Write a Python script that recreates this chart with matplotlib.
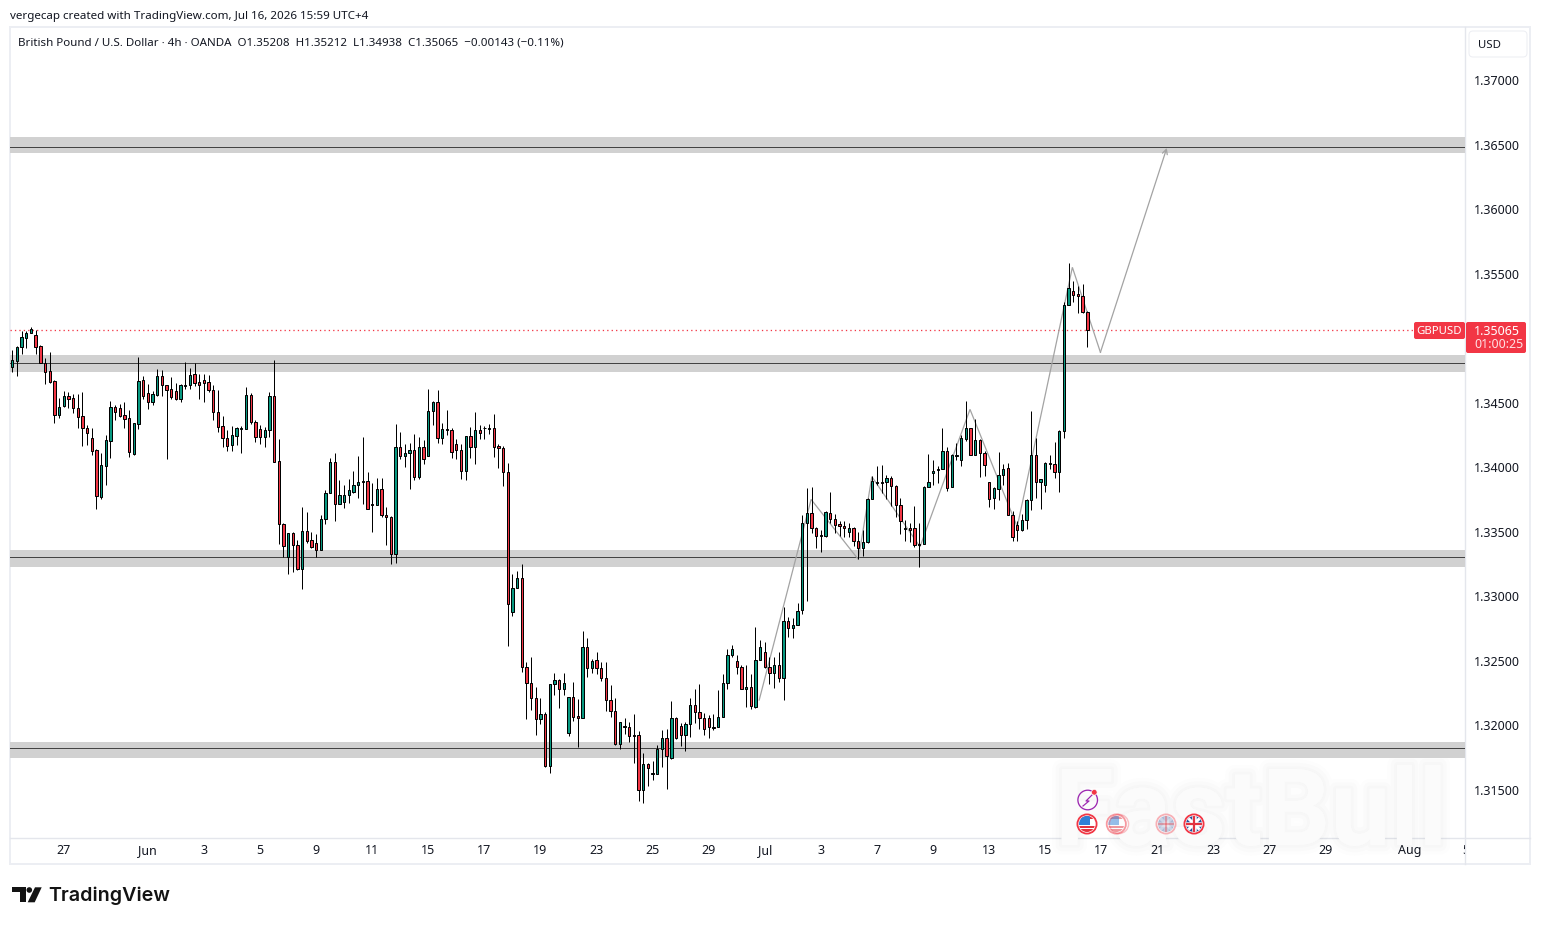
import numpy as np
import matplotlib
matplotlib.use("Agg")
import matplotlib.pyplot as plt
import matplotlib.patheffects as pe
from matplotlib.patches import Circle, FancyBboxPatch, Polygon, Rectangle
from matplotlib.transforms import Bbox, ScaledTranslation

# GBPUSD 4h bars
opens = [
    1.34781, 1.34828, 1.34931, 1.35001, 1.35040, 1.35024, 1.34939, 1.34807, 1.34745, 1.34668,
    1.34409, 1.34474, 1.34551, 1.34536, 1.34458, 1.34396, 1.34303, 1.34226, 1.34133, 1.33773,
    1.34014, 1.34208, 1.34466, 1.34458, 1.34404, 1.34381, 1.34104, 1.34339, 1.34675, 1.34575,
    1.34510, 1.34564, 1.34706, 1.34637, 1.34606, 1.34590, 1.34533, 1.34631, 1.34637, 1.34722,
    1.34660, 1.34675, 1.34660, 1.34598, 1.34427, 1.34319, 1.34226, 1.34177, 1.34246, 1.34295,
    1.34295, 1.34559, 1.34350, 1.34295, 1.34233, 1.34288, 1.34552, 1.34048, 1.33562, 1.33304,
    1.33490, 1.33397, 1.33211, 1.33505, 1.33436, 1.33412, 1.33358, 1.33598, 1.33800, 1.34040,
    1.33715, 1.33730, 1.33784, 1.33813, 1.33862, 1.33890, 1.33893, 1.33715, 1.33707, 1.33831,
    1.33629, 1.33616, 1.33327, 1.34156, 1.34087, 1.34110, 1.34133, 1.33929, 1.34156, 1.34087,
    1.34436, 1.34505, 1.34226, 1.34288, 1.34288, 1.34180, 1.34133, 1.33970, 1.34242, 1.34156,
    1.34288, 1.34304, 1.34301, 1.34304, 1.34164, 1.34149, 1.33963, 1.32883, 1.33064, 1.33141,
    1.32451, 1.32327, 1.32211, 1.32053, 1.32087, 1.31689, 1.32320, 1.32351, 1.32281, 1.31945,
    1.32219, 1.32072, 1.32056, 1.32606, 1.32444, 1.32506, 1.32444, 1.32366, 1.32196, 1.32110,
    1.31860, 1.31994, 1.31986, 1.31927, 1.31924, 1.31498, 1.31699, 1.31625, 1.31622, 1.31816,
    1.31901, 1.31749, 1.32056, 1.31994, 1.31924, 1.32010, 1.32157, 1.32103, 1.32056, 1.32056,
    1.31981, 1.31986, 1.32064, 1.32327, 1.32544, 1.32498, 1.32451, 1.32281, 1.32296, 1.32144,
    1.32506, 1.32568, 1.32451, 1.32409, 1.32466, 1.32365, 1.32807, 1.32758, 1.32776, 1.32892,
    1.33567, 1.33644, 1.33528, 1.33474, 1.33471, 1.33644, 1.33598, 1.33559, 1.33544, 1.33497,
    1.33528, 1.33427, 1.33373, 1.33420, 1.33753, 1.33877, 1.33877, 1.33885, 1.33916, 1.33854,
    1.33706, 1.33526, 1.33528, 1.33528, 1.33404, 1.33404, 1.33846, 1.33954, 1.33978, 1.33985,
    1.34125, 1.33846, 1.34086, 1.34055, 1.34218, 1.34303, 1.34094, 1.34210, 1.34110, 1.33885,
    1.33761, 1.33830, 1.33939, 1.33993, 1.33629, 1.33551, 1.33513, 1.33590, 1.33745, 1.34094,
    1.33885, 1.33862, 1.34030, 1.34024, 1.33962, 1.34280, 1.35257, 1.35366, 1.35342, 1.35327,
    1.35208,
]
closes = [
    1.34830, 1.34931, 1.35009, 1.35040, 1.35071, 1.34936, 1.34807, 1.34742, 1.34665, 1.34409,
    1.34466, 1.34551, 1.34533, 1.34458, 1.34394, 1.34303, 1.34270, 1.34130, 1.33776, 1.34016,
    1.34210, 1.34466, 1.34432, 1.34401, 1.34378, 1.34117, 1.34342, 1.34668, 1.34556, 1.34510,
    1.34567, 1.34706, 1.34637, 1.34603, 1.34549, 1.34533, 1.34637, 1.34637, 1.34714, 1.34657,
    1.34642, 1.34657, 1.34603, 1.34427, 1.34316, 1.34226, 1.34169, 1.34249, 1.34303, 1.34303,
    1.34559, 1.34350, 1.34233, 1.34233, 1.34288, 1.34551, 1.34040, 1.33560, 1.33389, 1.33490,
    1.33397, 1.33211, 1.33505, 1.33428, 1.33386, 1.33358, 1.33598, 1.33800, 1.34040, 1.33715,
    1.33784, 1.33784, 1.33823, 1.33862, 1.33885, 1.33895, 1.33676, 1.33707, 1.33831, 1.33629,
    1.33614, 1.33327, 1.34156, 1.34087, 1.34110, 1.34133, 1.33929, 1.34156, 1.34063, 1.34436,
    1.34505, 1.34226, 1.34296, 1.34296, 1.34118, 1.34133, 1.33970, 1.34242, 1.34156, 1.34288,
    1.34265, 1.34309, 1.34306, 1.34162, 1.34149, 1.33963, 1.32940, 1.33064, 1.33141, 1.32451,
    1.32327, 1.32211, 1.32048, 1.32087, 1.31687, 1.32320, 1.32351, 1.32281, 1.32327, 1.32219,
    1.32069, 1.32056, 1.32606, 1.32444, 1.32498, 1.32444, 1.32366, 1.32196, 1.32110, 1.31860,
    1.32025, 1.31986, 1.31922, 1.31922, 1.31498, 1.31699, 1.31674, 1.31630, 1.31816, 1.31901,
    1.31761, 1.32056, 1.31901, 1.31924, 1.32010, 1.32157, 1.32103, 1.32056, 1.31971, 1.31986,
    1.31986, 1.32064, 1.32327, 1.32544, 1.32591, 1.32451, 1.32281, 1.32296, 1.32149, 1.32506,
    1.32606, 1.32451, 1.32409, 1.32466, 1.32365, 1.32807, 1.32753, 1.32776, 1.32885, 1.33567,
    1.33644, 1.33528, 1.33466, 1.33466, 1.33652, 1.33598, 1.33551, 1.33544, 1.33528, 1.33528,
    1.33427, 1.33373, 1.33420, 1.33753, 1.33892, 1.33885, 1.33885, 1.33916, 1.33854, 1.33706,
    1.33582, 1.33531, 1.33518, 1.33396, 1.33396, 1.33846, 1.33885, 1.33970, 1.33985, 1.34125,
    1.33838, 1.34094, 1.34094, 1.34226, 1.34303, 1.34094, 1.34210, 1.34110, 1.34017, 1.33753,
    1.33838, 1.33939, 1.33985, 1.33629, 1.33458, 1.33513, 1.33590, 1.33745, 1.34094, 1.33885,
    1.33908, 1.34032, 1.34035, 1.33962, 1.34280, 1.35257, 1.35389, 1.35335, 1.35327, 1.35203,
    1.35065,
]
highs = [
    1.34910, 1.34941, 1.35060, 1.35060, 1.35089, 1.35065, 1.34949, 1.34846, 1.34892, 1.34678,
    1.34536, 1.34590, 1.34585, 1.34569, 1.34569, 1.34585, 1.34326, 1.34306, 1.34140, 1.34109,
    1.34249, 1.34515, 1.34484, 1.34492, 1.34505, 1.34445, 1.34342, 1.34856, 1.34706, 1.34647,
    1.34590, 1.34761, 1.34755, 1.34637, 1.34701, 1.34652, 1.34644, 1.34815, 1.34771, 1.34807,
    1.34722, 1.34722, 1.34714, 1.34637, 1.34598, 1.34396, 1.34288, 1.34319, 1.34311, 1.34319,
    1.34621, 1.34575, 1.34365, 1.34326, 1.34311, 1.34585, 1.34833, 1.34221, 1.33567, 1.33495,
    1.33498, 1.33438, 1.33691, 1.33653, 1.33503, 1.33482, 1.33629, 1.33826, 1.34071, 1.34110,
    1.33903, 1.33864, 1.33908, 1.33970, 1.34087, 1.34234, 1.33963, 1.33877, 1.33916, 1.33916,
    1.33691, 1.33624, 1.34335, 1.34273, 1.34180, 1.34187, 1.34257, 1.34234, 1.34211, 1.34606,
    1.34518, 1.34598, 1.34343, 1.34443, 1.34304, 1.34224, 1.34180, 1.34242, 1.34312, 1.34430,
    1.34327, 1.34319, 1.34335, 1.34412, 1.34185, 1.34164, 1.34032, 1.33175, 1.33198, 1.33252,
    1.32495, 1.32529, 1.32296, 1.32211, 1.32103, 1.32320, 1.32405, 1.32358, 1.32405, 1.32219,
    1.32338, 1.32206, 1.32733, 1.32676, 1.32513, 1.32568, 1.32490, 1.32490, 1.32312, 1.32211,
    1.32025, 1.32056, 1.32025, 1.32090, 1.31955, 1.31785, 1.31707, 1.31728, 1.31847, 1.31963,
    1.31971, 1.32188, 1.32064, 1.32017, 1.32025, 1.32211, 1.32281, 1.32320, 1.32095, 1.32082,
    1.32092, 1.32273, 1.32397, 1.32591, 1.32625, 1.32544, 1.32467, 1.32467, 1.32397, 1.32762,
    1.32663, 1.32645, 1.32528, 1.32528, 1.32567, 1.32916, 1.32838, 1.32830, 1.32947, 1.33629,
    1.33838, 1.33846, 1.33536, 1.33515, 1.33660, 1.33807, 1.33637, 1.33582, 1.33588, 1.33567,
    1.33536, 1.33497, 1.33515, 1.33761, 1.33931, 1.34009, 1.34017, 1.33939, 1.33931, 1.33861,
    1.33761, 1.33590, 1.33567, 1.33699, 1.33567, 1.33854, 1.34102, 1.34055, 1.34009, 1.34303,
    1.34156, 1.34102, 1.34187, 1.34249, 1.34513, 1.34303, 1.34373, 1.34218, 1.34125, 1.33885,
    1.33846, 1.34117, 1.34024, 1.34032, 1.33660, 1.33582, 1.33637, 1.33753, 1.34435, 1.34226,
    1.33913, 1.34040, 1.34094, 1.34195, 1.34288, 1.35280, 1.35583, 1.35443, 1.35404, 1.35420,
    1.35212,
]
lows = [
    1.34742, 1.34711, 1.34882, 1.34929, 1.35040, 1.34879, 1.34807, 1.34649, 1.34657, 1.34347,
    1.34386, 1.34466, 1.34463, 1.34419, 1.34308, 1.34169, 1.34177, 1.34099, 1.33680, 1.33758,
    1.33867, 1.34076, 1.34370, 1.34394, 1.34308, 1.34084, 1.34099, 1.34301, 1.34533, 1.34456,
    1.34487, 1.34556, 1.34556, 1.34068, 1.34533, 1.34523, 1.34510, 1.34611, 1.34611, 1.34634,
    1.34533, 1.34510, 1.34587, 1.34370, 1.34277, 1.34161, 1.34130, 1.34125, 1.34177, 1.34115,
    1.34295, 1.34339, 1.34200, 1.34184, 1.34161, 1.34239, 1.34040, 1.33410, 1.33304, 1.33172,
    1.33187, 1.33203, 1.33061, 1.33417, 1.33379, 1.33306, 1.33358, 1.33560, 1.33800, 1.33585,
    1.33715, 1.33689, 1.33728, 1.33800, 1.33761, 1.33715, 1.33676, 1.33503, 1.33707, 1.33619,
    1.33399, 1.33249, 1.33262, 1.34063, 1.34001, 1.33836, 1.33901, 1.33908, 1.34025, 1.34087,
    1.34332, 1.34187, 1.34180, 1.34249, 1.34071, 1.34069, 1.33911, 1.33906, 1.34076, 1.34030,
    1.34224, 1.34224, 1.34257, 1.34084, 1.33999, 1.33854, 1.32619, 1.32852, 1.33064, 1.32418,
    1.32053, 1.32118, 1.31929, 1.32010, 1.31681, 1.31635, 1.32234, 1.32139, 1.32234, 1.31922,
    1.32038, 1.31836, 1.32056, 1.32379, 1.32405, 1.32397, 1.32343, 1.32116, 1.32069, 1.31852,
    1.31821, 1.31932, 1.31875, 1.31712, 1.31418, 1.31402, 1.31534, 1.31581, 1.31622, 1.31676,
    1.31511, 1.31738, 1.31893, 1.31844, 1.31805, 1.31909, 1.32017, 1.31971, 1.31924, 1.31906,
    1.31963, 1.31986, 1.32064, 1.32281, 1.32529, 1.32397, 1.32281, 1.32141, 1.32126, 1.32139,
    1.32506, 1.32444, 1.32319, 1.32288, 1.32339, 1.32197, 1.32688, 1.32681, 1.32776, 1.32861,
    1.32967, 1.33492, 1.33378, 1.33347, 1.33464, 1.33567, 1.33495, 1.33466, 1.33464, 1.33464,
    1.33394, 1.33288, 1.33316, 1.33412, 1.33753, 1.33861, 1.33799, 1.33753, 1.33701, 1.33613,
    1.33487, 1.33433, 1.33420, 1.33381, 1.33226, 1.33404, 1.33846, 1.33861, 1.33877, 1.33985,
    1.33815, 1.33846, 1.34055, 1.34009, 1.34203, 1.34094, 1.34094, 1.33923, 1.33931, 1.33696,
    1.33675, 1.33745, 1.33861, 1.33629, 1.33427, 1.33427, 1.33505, 1.33521, 1.33668, 1.33761,
    1.33681, 1.33807, 1.33988, 1.33916, 1.33807, 1.34226, 1.35257, 1.35280, 1.35200, 1.35195,
    1.34938,
]

# Support and resistance zones: (top, bottom, level)
zones = [
    (1.36562, 1.36435, 1.36481),
    (1.34872, 1.34743, 1.34808),
    (1.33360, 1.33231, 1.33304),
    (1.31874, 1.31750, 1.31823),
]

# Hand drawn projection path, in bar numbers and prices
path_bars = [159.8, 170.9, 181.0, 183.9, 194.2, 204.9, 215.0, 226.8, 232.8]
path_prices = [1.32198, 1.33753, 1.33288, 1.33929, 1.33386, 1.34451, 1.33541, 1.35552, 1.34893]
arrow_end = (247.0, 1.36477)

last_price = 1.35065

price_ticks = [1.37, 1.365, 1.36, 1.355, 1.345, 1.34, 1.335, 1.33, 1.325, 1.32, 1.315]
date_ticks = [11, 29, 41, 53, 65, 77, 89, 101, 113, 125, 137, 149, 161, 173, 185, 197,
              209, 221, 233, 245, 257, 269, 281, 299]
date_labels = ["27", "Jun", "3", "5", "9", "11", "15", "17", "19", "23", "25", "29", "Jul",
               "3", "7", "9", "13", "15", "17", "21", "23", "27", "29", "Aug"]

UP = "#089981"
DOWN = "#f23645"
INK = "#131722"
BORDER = "#eceef3"
PX = 0.72  # one pixel in points at 100 dpi
W, H = 1541, 925

plt.rcParams["font.family"] = ["Noto Sans", "DejaVu Sans"]

fig = plt.figure(figsize=(W / 100, H / 100), dpi=100, facecolor="white")


def overlay(z):
    # full figure axes working in pixels, y going down
    a = fig.add_axes([0, 0, 1, 1], zorder=z)
    a.set_xlim(0, W)
    a.set_ylim(H, 0)
    a.axis("off")
    a.patch.set_alpha(0)
    return a


back = overlay(0)
front = overlay(2)

# Price pane
ax = fig.add_axes([10 / W, 1 - 837 / H, 1455 / W, 810 / H], zorder=1)
ax.patch.set_alpha(0)
ax.set_xlim(-0.49, 310.8)
ax.set_ylim(1.31136, 1.37415)
for s in ax.spines.values():
    s.set_visible(False)

for top, bottom, level in zones:
    ax.axhspan(bottom, top, color="#d1d1d1", lw=0, zorder=1)
    ax.axhline(level, color="#434343", lw=PX, zorder=2)

ax.axhline(last_price, color=DOWN, lw=PX * 1.3, linestyle=(0, (1, 2.4)), zorder=2)

ax.plot(path_bars, path_prices, color="#a3a3a3", lw=0.9, zorder=3, solid_joinstyle="miter")
ax.annotate("", xy=arrow_end, xytext=(path_bars[-1], path_prices[-1]),
            arrowprops=dict(arrowstyle="->,head_length=0.35,head_width=0.18", color="#a3a3a3",
                            lw=0.9, shrinkA=0, shrinkB=0), zorder=3)

bars = np.arange(len(opens))
o = np.array(opens)
c = np.array(closes)
ax.vlines(bars, lows, highs, color="black", lw=PX, zorder=4)
ax.bar(bars, np.abs(c - o), bottom=np.minimum(o, c), width=0.5,
       color=np.where(c >= o, UP, DOWN), edgecolor="black", linewidth=PX, zorder=5)

# Axes labels
ax.yaxis.tick_right()
ax.set_yticks(price_ticks)
ax.set_yticklabels(["%.5f" % p for p in price_ticks])
ax.set_xticks(date_ticks)
ax.set_xticklabels(date_labels)
ax.tick_params(axis="y", length=0, pad=6.4, labelsize=9.0, labelcolor=INK)
ax.tick_params(axis="x", length=0, pad=5.3, labelsize=9.0, labelcolor=INK)
nudge = ScaledTranslation(0, 0.5 / 100, fig.dpi_scale_trans)
for lab in ax.get_yticklabels():
    lab.set_transform(lab.get_transform() + nudge)
for lab in ax.get_xticklabels():
    if lab.get_text() in ("Jun", "Jul", "Aug"):
        lab.set_fontweight("semibold")

# Frame around the chart
back.add_patch(Rectangle((10, 27), 1520, 837, fill=False, ec=BORDER, lw=PX * 2))
back.plot([1465.5, 1465.5], [27, 864], color="#e4e6ec", lw=PX * 1.4)
back.plot([10, 1530], [837.5, 837.5], color="#e4e6ec", lw=PX * 1.4)

# Faint watermark
back.text(1055, 845, "FastBull", family="Roboto", fontweight="bold", fontsize=77,
          color="#fbfbfb", ha="left", va="baseline", zorder=2,
          path_effects=[pe.withStroke(linewidth=14, foreground="#000000", alpha=0.006),
                        pe.withStroke(linewidth=9, foreground="#000000", alpha=0.01),
                        pe.withStroke(linewidth=4, foreground="#000000", alpha=0.012),
                        pe.Normal()])

# Last date label is cut off by the price scale
cut = front.text(1466, 850, "5", fontsize=9.0, color=INK, ha="center", va="center")
cut.set_clip_box(Bbox([[0, 0], [1465, H]]))
cut.set_clip_on(True)


def ring_clip(a, cx, cy, r, alpha):
    clip = Circle((cx, cy), r, fc="white", ec="none", alpha=alpha, zorder=3)
    a.add_patch(clip)
    return clip


def us_flag(a, cx, cy, alpha=1.0):
    clip = ring_clip(a, cx, cy, 8, alpha)
    for dy, hh in [(-8, 2.6), (2, 2.4), (5.2, 3)]:
        r = Rectangle((cx - 8, cy + dy), 16, hh, fc="#e2333f", ec="none", alpha=alpha, zorder=3.1)
        a.add_patch(r)
        r.set_clip_path(clip)
    blue = Rectangle((cx - 8, cy - 8), 11, 9, fc="#2f7fd6", ec="none", alpha=alpha, zorder=3.2)
    a.add_patch(blue)
    blue.set_clip_path(clip)
    a.add_patch(Circle((cx, cy), 9.6, fill=False, ec=DOWN, lw=PX * 1.8, alpha=alpha, zorder=3.3))


def uk_flag(a, cx, cy, alpha=1.0):
    clip = ring_clip(a, cx, cy, 8, alpha)
    parts = [([cx - 8, cx + 8], [cy - 8, cy + 8], "white", 3), ([cx - 8, cx + 8], [cy + 8, cy - 8], "white", 3)]
    bg = Rectangle((cx - 8, cy - 8), 16, 16, fc="#27509b", ec="none", alpha=alpha, zorder=3.1)
    a.add_patch(bg)
    bg.set_clip_path(clip)
    parts += [([cx - 8, cx + 8], [cy, cy], "white", 4.5), ([cx, cx], [cy - 8, cy + 8], "white", 4.5),
              ([cx - 8, cx + 8], [cy, cy], "#e2333f", 2.2), ([cx, cx], [cy - 8, cy + 8], "#e2333f", 2.2)]
    for xs, ys, col, lw in parts:
        ln, = a.plot(xs, ys, color=col, lw=lw * PX, alpha=alpha, zorder=3.2)
        ln.set_clip_path(clip)
    a.add_patch(Circle((cx, cy), 9.6, fill=False, ec=DOWN, lw=PX * 1.8, alpha=alpha, zorder=3.3))


# Economic event markers
back.add_patch(Circle((1087.7, 800), 9.8, fill=False, ec="#9c27b0", lw=PX * 1.3, zorder=3))
back.plot([1092, 1086, 1089, 1083], [795, 801, 801, 806], color="#9c27b0", lw=PX * 1.2, zorder=3)
back.add_patch(Circle((1094.3, 792.3), 2.8, fc=DOWN, ec="white", lw=PX * 0.6, zorder=3.1))
us_flag(back, 1087, 824)
us_flag(back, 1116.3, 824, 0.5)
back.add_patch(Circle((1119, 824), 9.6, fill=False, ec=DOWN, lw=PX * 1.4, alpha=0.3, zorder=3.3))
uk_flag(back, 1166, 824, 0.38)
uk_flag(back, 1194, 824)

# Header and legend
front.text(10, 16, "vergecap created with TradingView.com, Jul 16, 2026 15:59 UTC+4",
           fontsize=8.36, color=INK, va="center", ha="left")
front.text(18, 43, "British Pound / U.S. Dollar \u00b7 4h \u00b7 OANDA  O1.35208  H1.35212  L1.34938  "
           "C1.35065  \u22120.00143 (\u22120.11%)", fontsize=8.31, color=INK, va="center", ha="left")

# Currency button
front.add_patch(FancyBboxPatch((1469, 31), 58, 26, boxstyle="round,pad=0,rounding_size=4",
                               fc="white", ec=BORDER, lw=PX))
front.text(1478, 45, "USD", fontsize=8.2, color=INK, va="center", ha="left")

# Last price tags
front.add_patch(FancyBboxPatch((1414, 322), 51, 17, boxstyle="round,pad=0,rounding_size=2",
                               fc=DOWN, ec="none"))
front.add_patch(FancyBboxPatch((1466, 322), 60, 31, boxstyle="round,pad=0,rounding_size=2",
                               fc=DOWN, ec="none"))
front.text(1439.5, 331.5, "GBPUSD", fontsize=8.2, color="white", va="center", ha="center")
front.text(1474, 331.5, "1.35065", fontsize=9.0, color="white", va="center", ha="left")
front.text(1474, 345, "01:00:25", fontsize=9.0, color="#ffe0e3", va="center", ha="left")

# Brand mark
for pts in ([(12.3, 887.3), (25.7, 887.3), (25.7, 902.3), (19.7, 902.3), (19.7, 892.3), (12.3, 892.3)],
            [(35, 887.3), (41.7, 887.3), (34.7, 902.3), (27.7, 902.3)]):
    front.add_patch(Polygon(pts, closed=True, fc="#131313", ec="none"))
front.add_patch(Circle((29.3, 890), 2.8, fc="#131313", ec="none"))
front.text(48, 895.5, "TradingView", family="Inter", fontweight="semibold", fontsize=14.2,
           color="#131313", va="center", ha="left")

fig.savefig("out.png", dpi=100)
